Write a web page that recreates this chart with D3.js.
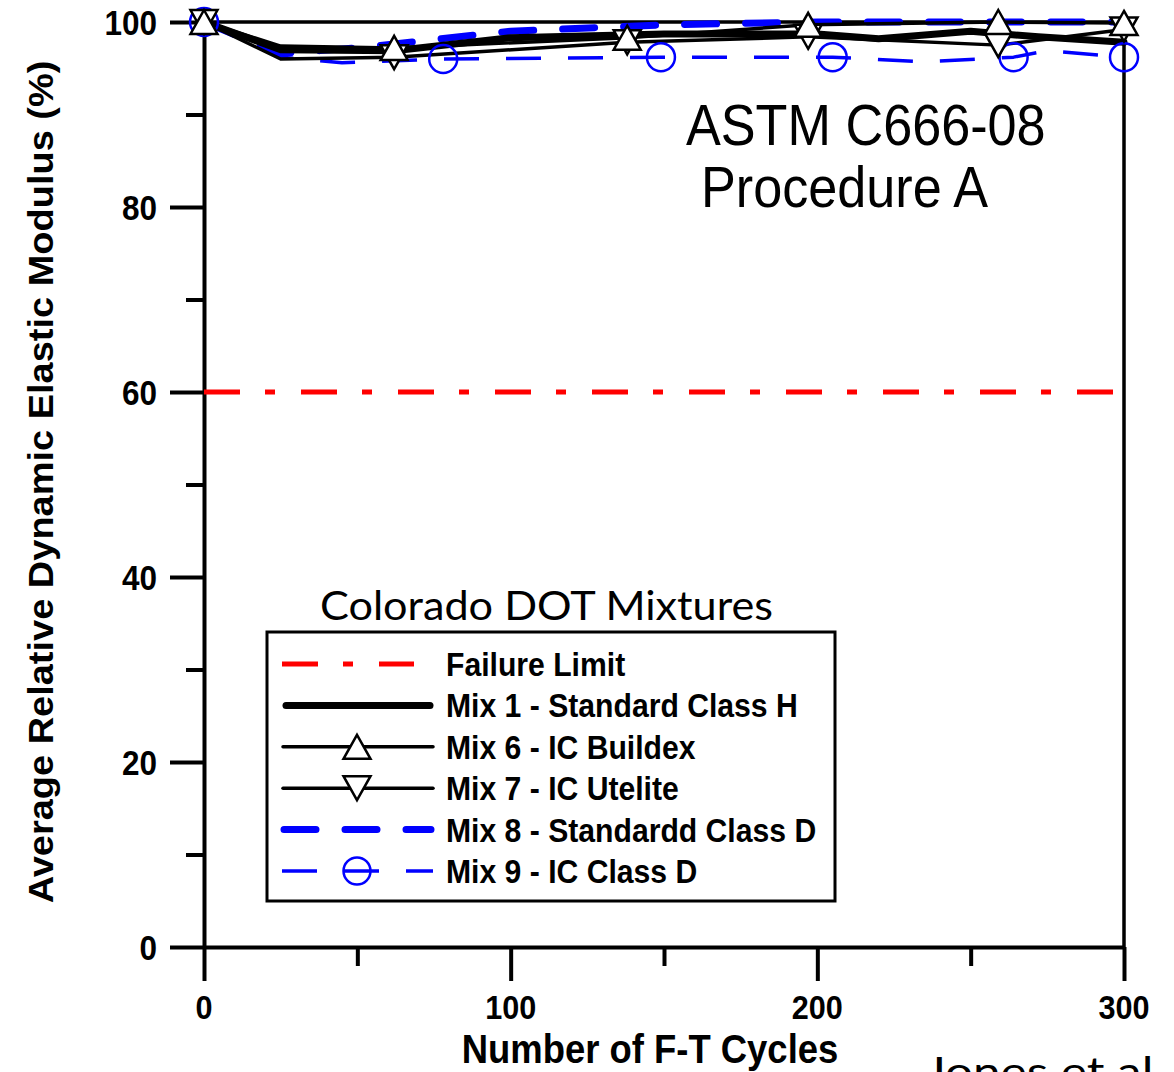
<!DOCTYPE html>
<html>
<head>
<meta charset="utf-8">
<script src="https://cdn.jsdelivr.net/npm/d3@7"></script>
<style>
  html, body { margin: 0; padding: 0; background: #fff; }
  svg { display: block; }
</style>
</head>
<body>
<svg id="chart" width="1174" height="1072"></svg>
<script>
// Relative dynamic modulus of concrete mixtures under freeze–thaw cycling

const xTicksMajor = [0, 100, 200, 300];
const xTicksMinor = [50, 150, 250];
const yTicksMajor = [0, 20, 40, 60, 80, 100];
const yTicksMinor = [10, 30, 50, 70, 90];

const failureLimit = 60;

// Mix 1 - Standard Class H
const mix1Cycles = [0, 25, 62, 100, 150, 200, 220, 250, 272, 300];
const mix1Values = [100, 97.0, 96.9, 98.3, 98.7, 98.7, 98.2, 99.0, 98.4, 97.8];

// Mix 6 - IC Buildex
const mix6Cycles = [0, 25, 62, 138, 197, 259, 300];
const mix6Values = [100, 97.4, 97.2, 98.3, 99.7, 100, 99.9];
const mix6SymbolCycles = [0, 62, 138, 197, 259, 300];

// Mix 7 - IC Utelite
const mix7Cycles = [0, 25, 62, 138, 197, 259, 300];
const mix7Values = [100, 96.0, 96.2, 97.8, 98.4, 97.5, 99.2];
const mix7SymbolCycles = [0, 62, 138, 197, 259, 300];

// Mix 8 - Standardd Class D
const mix8Cycles = [0, 25, 50, 100, 150, 200, 250, 300];
const mix8Values = [100, 96.6, 97.2, 99.0, 99.7, 100, 100, 100];

// Mix 9 - IC Class D
const mix9Cycles = [0, 25, 45, 78, 149, 205, 235, 264, 275, 300];
const mix9Values = [100, 96.2, 95.6, 96.0, 96.2, 96.2, 95.7, 96.2, 96.9, 96.2];
const mix9SymbolCycles = [0, 78, 149, 205, 264, 300];

const legendLabels = [
  "Failure Limit",
  "Mix 1 - Standard Class H",
  "Mix 6 - IC Buildex",
  "Mix 7 - IC Utelite",
  "Mix 8 - Standardd Class D",
  "Mix 9 - IC Class D"
];

const xTitle = "Number of F-T Cycles";
const yTitle = "Average Relative Dynamic Elastic Modulus (%)";
const noteLines = ["ASTM C666-08", "Procedure A"];
const legendTitle = "Colorado DOT Mixtures";
const credit = "Jones et al.";

// ---------------------------------------------------------------------------
const BLUE = "#0000ff", RED = "#ff0000", BLACK = "#000";
const boldFont = "'Liberation Sans', Arial, sans-serif";
const squeeze = 0.9;

const svg = d3.select("#chart");
svg.append("rect").attr("width", 1174).attr("height", 1072).attr("fill", "#fff");

const plot = { left: 204, right: 1124, top: 22, bottom: 947 };
const x = d3.scaleLinear().domain([0, 300]).range([plot.left, plot.right]);
const y = d3.scaleLinear().domain([0, 100]).range([plot.bottom, plot.top]);

// text helper: horizontally condensed glyphs
function label(parent, str, px, py, opts) {
  const o = Object.assign({ size: 35, weight: "bold", anchor: "start", family: boldFont, dy: null, rotate: 0 }, opts || {});
  const t = parent.append("text")
    .attr("transform", `translate(${px},${py}) scale(${squeeze},1)` + (o.rotate ? ` rotate(${o.rotate})` : ""))
    .attr("font-family", o.family)
    .attr("font-size", o.size)
    .attr("font-weight", o.weight)
    .attr("text-anchor", o.anchor)
    .attr("fill", BLACK)
    .text(str);
  if (o.dy) t.attr("dy", o.dy);
  return t;
}

// ---------------------------------------------------------------- axes
const axisG = svg.append("g");

function styleAxis(g) {
  g.selectAll("path, line").attr("stroke", BLACK).attr("stroke-width", 4);
  g.selectAll("text").remove();
}

axisG.append("g")
  .attr("transform", `translate(${plot.left},0)`)
  .call(d3.axisLeft(y).tickValues(yTicksMajor).tickSize(34).tickSizeOuter(0).tickFormat(""))
  .call(styleAxis);
axisG.append("g")
  .attr("transform", `translate(${plot.left},0)`)
  .call(d3.axisLeft(y).tickValues(yTicksMinor).tickSize(18).tickSizeOuter(0).tickFormat(""))
  .call(styleAxis)
  .call(g => g.select(".domain").remove());

axisG.append("g")
  .attr("transform", `translate(0,${plot.bottom})`)
  .call(d3.axisBottom(x).tickValues(xTicksMajor).tickSize(34).tickSizeOuter(0).tickFormat(""))
  .call(styleAxis);
axisG.append("g")
  .attr("transform", `translate(0,${plot.bottom})`)
  .call(d3.axisBottom(x).tickValues(xTicksMinor).tickSize(19).tickSizeOuter(0).tickFormat(""))
  .call(styleAxis)
  .call(g => g.select(".domain").remove());

// top and right frame
axisG.append("path")
  .attr("d", `M${x(0)},${y(100)}H${x(300)}V${y(0)}`)
  .attr("fill", "none").attr("stroke", BLACK).attr("stroke-width", 3.5);

// tick labels
yTicksMajor.forEach(v => label(axisG, String(v), plot.left - 47, y(v), { size: 35, anchor: "end", dy: "0.36em" }));
xTicksMajor.forEach(v => label(axisG, String(v), x(v), 1019, { size: 34, anchor: "middle" }));

// axis titles
label(axisG, xTitle, 650, 1063, { size: 40.5, anchor: "middle" });
label(axisG, yTitle, 53, 482, { size: 38, anchor: "middle", rotate: -90 });

// ---------------------------------------------------------------- series
const lineGen = d3.line().x(d => x(d[0])).y(d => y(d[1]));
const zipPts = (cs, vs) => cs.map((c, i) => [c, vs[i]]);
const dataG = svg.append("g");

// failure limit
dataG.append("path")
  .attr("d", lineGen([[0, failureLimit], [300, failureLimit]]))
  .attr("fill", "none").attr("stroke", RED).attr("stroke-width", 5)
  .attr("stroke-dasharray", "36,25,10,26");

const series = [
  { pts: zipPts(mix9Cycles, mix9Values), stroke: BLUE, width: 3.5, dash: "35,27", cap: "butt" },
  { pts: zipPts(mix8Cycles, mix8Values), stroke: BLUE, width: 7, dash: "32,29", cap: "round" },
  { pts: zipPts(mix1Cycles, mix1Values), stroke: BLACK, width: 7, dash: null, cap: "round" },
  { pts: zipPts(mix7Cycles, mix7Values), stroke: BLACK, width: 3.5, dash: null, cap: "round" },
  { pts: zipPts(mix6Cycles, mix6Values), stroke: BLACK, width: 3.5, dash: null, cap: "round" }
];

dataG.selectAll("path.series")
  .data(series)
  .join("path")
  .attr("class", "series")
  .attr("d", d => lineGen(d.pts))
  .attr("fill", "none")
  .attr("stroke", d => d.stroke)
  .attr("stroke-width", d => d.width)
  .attr("stroke-dasharray", d => d.dash)
  .attr("stroke-linecap", d => d.cap)
  .attr("stroke-linejoin", "round");

// symbols
const TRI_W = 27, TRI_H = 24;
const triUp = `M0,${-TRI_H / 2}L${TRI_W / 2},${TRI_H / 2}L${-TRI_W / 2},${TRI_H / 2}Z`;
const triDown = `M0,${TRI_H / 2}L${TRI_W / 2},${-TRI_H / 2}L${-TRI_W / 2},${-TRI_H / 2}Z`;

const pick = (cs, vs, sel) => sel.map(c => [c, vs[cs.indexOf(c)]]);

dataG.selectAll("circle.mix9")
  .data(pick(mix9Cycles, mix9Values, mix9SymbolCycles))
  .join("circle")
  .attr("class", "mix9")
  .attr("cx", d => x(d[0])).attr("cy", d => y(d[1])).attr("r", 14)
  .attr("fill", "none").attr("stroke", BLUE).attr("stroke-width", 2.5);

dataG.selectAll("path.mix7")
  .data(pick(mix7Cycles, mix7Values, mix7SymbolCycles))
  .join("path")
  .attr("class", "mix7")
  .attr("d", triDown)
  .attr("transform", d => `translate(${x(d[0])},${y(d[1])})`)
  .attr("fill", "#fff").attr("stroke", BLACK).attr("stroke-width", 2.5).attr("stroke-linejoin", "miter");

dataG.selectAll("path.mix6")
  .data(pick(mix6Cycles, mix6Values, mix6SymbolCycles))
  .join("path")
  .attr("class", "mix6")
  .attr("d", triUp)
  .attr("transform", d => `translate(${x(d[0])},${y(d[1])})`)
  .attr("fill", "#fff").attr("stroke", BLACK).attr("stroke-width", 2.5).attr("stroke-linejoin", "miter");

// ---------------------------------------------------------------- annotations
label(svg, noteLines[0], 686, 145, { size: 58, weight: "normal" });
label(svg, noteLines[1], 701, 207, { size: 58, weight: "normal" });

svg.append("text")
  .attr("x", 320).attr("y", 620)
  .attr("font-family", "Lato, 'Open Sans', sans-serif")
  .attr("font-size", 40)
  .attr("textLength", 453).attr("lengthAdjust", "spacingAndGlyphs")
  .attr("fill", BLACK)
  .text(legendTitle);

svg.append("text")
  .attr("x", 925).attr("y", 1086)
  .attr("font-family", "Lato, 'Open Sans', sans-serif")
  .attr("font-size", 40)
  .attr("textLength", 240).attr("lengthAdjust", "spacingAndGlyphs")
  .attr("fill", BLACK)
  .text(credit);

// ---------------------------------------------------------------- legend
const lg = svg.append("g");
lg.append("rect")
  .attr("x", 267).attr("y", 632).attr("width", 568).attr("height", 269)
  .attr("fill", "#fff").attr("stroke", BLACK).attr("stroke-width", 3);

const rowY = i => 664 + i * 41.4;
const sx0 = 283, sx1 = 433, sxm = 357;

// failure limit sample
lg.append("line").attr("x1", sx0 - 1).attr("x2", 414).attr("y1", rowY(0)).attr("y2", rowY(0))
  .attr("stroke", RED).attr("stroke-width", 5).attr("stroke-dasharray", "36,25,10,26");
// Mix 1
lg.append("line").attr("x1", sx0 + 3).attr("x2", sx1 - 3).attr("y1", rowY(1)).attr("y2", rowY(1))
  .attr("stroke", BLACK).attr("stroke-width", 7).attr("stroke-linecap", "round");
// Mix 6
lg.append("line").attr("x1", sx0).attr("x2", sx1).attr("y1", rowY(2)).attr("y2", rowY(2))
  .attr("stroke", BLACK).attr("stroke-width", 3.5).attr("stroke-linecap", "round");
lg.append("path").attr("d", triUp).attr("transform", `translate(${sxm},${rowY(2)})`)
  .attr("fill", "#fff").attr("stroke", BLACK).attr("stroke-width", 2.5);
// Mix 7
lg.append("line").attr("x1", sx0).attr("x2", sx1).attr("y1", rowY(3)).attr("y2", rowY(3))
  .attr("stroke", BLACK).attr("stroke-width", 3.5).attr("stroke-linecap", "round");
lg.append("path").attr("d", triDown).attr("transform", `translate(${sxm},${rowY(3)})`)
  .attr("fill", "#fff").attr("stroke", BLACK).attr("stroke-width", 2.5);
// Mix 8
lg.append("line").attr("x1", sx0 + 1).attr("x2", sx1 - 2).attr("y1", rowY(4)).attr("y2", rowY(4))
  .attr("stroke", BLUE).attr("stroke-width", 7).attr("stroke-linecap", "round").attr("stroke-dasharray", "32,29");
// Mix 9
lg.append("line").attr("x1", sx0 - 1).attr("x2", sx1).attr("y1", rowY(5)).attr("y2", rowY(5))
  .attr("stroke", BLUE).attr("stroke-width", 3.5).attr("stroke-dasharray", "35,27");
lg.append("circle").attr("cx", sxm).attr("cy", rowY(5)).attr("r", 13.5)
  .attr("fill", "none").attr("stroke", BLUE).attr("stroke-width", 2.5);

legendLabels.forEach((s, i) => label(lg, s, 446, rowY(i), { size: 33.5, dy: "0.36em" }));
</script>
</body>
</html>
